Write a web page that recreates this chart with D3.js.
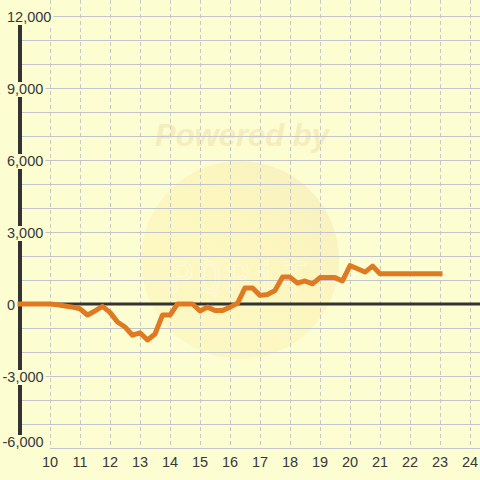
<!DOCTYPE html>
<html><head><meta charset="utf-8">
<script src="https://cdn.jsdelivr.net/npm/d3@7"></script>
<style>html,body{margin:0;padding:0;background:#fdfdd2;}svg{display:block;}</style>
</head><body><div id="chart"></div>
<script>
const hours = [9,9.25,9.5,9.75,10,10.25,10.5,10.75,11,11.25,11.5,11.75,12,12.25,12.5,12.75,13,13.25,13.5,13.75,14,14.25,14.5,14.75,15,15.25,15.5,15.75,16,16.25,16.5,16.75,17,17.25,17.5,17.75,18,18.25,18.5,18.75,19,19.25,19.5,19.75,20,20.25,20.5,20.75,21,21.25,21.5,21.75,22,22.25,22.5,22.75,23];
const values = [0,0,0,0,0,-30,-80,-130,-200,-460,-290,-100,-350,-750,-960,-1300,-1200,-1500,-1250,-460,-460,0,0,0,-290,-130,-270,-270,-130,30,670,670,360,400,560,1120,1120,870,960,840,1100,1100,1100,960,1600,1470,1330,1580,1260,1260,1260,1260,1260,1260,1260,1260,1260];
const xTicks = [10,11,12,13,14,15,16,17,18,19,20,21,22,23,24];
const yGrid = [-6000,-5000,-4000,-3000,-2000,-1000,0,1000,2000,3000,4000,5000,6000,7000,8000,9000,10000,11000,12000];
const yLabels = [12000,9000,6000,3000,0,-3000,-6000];

const W = 480, H = 480, BG = "#fdfdd2";
const x = d3.scaleLinear().domain([10,24]).range([50,470]);
const y = d3.scaleLinear().domain([-6000,12000]).range([448,16]);
const fmt = v => d3.format(",")(v).replace("\u2212","-");

const svg = d3.select("#chart").append("svg").attr("width",W).attr("height",H);
svg.append("rect").attr("width",W).attr("height",H).attr("fill",BG);

// watermark
const defs = svg.append("defs");
const grad = defs.append("linearGradient").attr("id","wm").attr("x1","0").attr("y1","1").attr("x2","1").attr("y2","0");
grad.append("stop").attr("offset","0").attr("stop-color","#fdf8c0");
grad.append("stop").attr("offset","0.6").attr("stop-color","#fcf3b8");
grad.append("stop").attr("offset","1").attr("stop-color","#f3ecbc");
svg.append("circle").attr("cx",240).attr("cy",260).attr("r",99).attr("fill","url(#wm)").attr("opacity",0.75);
svg.append("text").attr("x",242).attr("y",146).attr("text-anchor","middle")
  .attr("font-family","Liberation Sans, Arial, sans-serif").attr("font-size",31).attr("font-weight","bold").attr("font-style","italic")
  .attr("fill","#f5edbc").text("Powered by");
svg.append("text").attr("x",240).attr("y",292).attr("text-anchor","middle")
  .attr("font-family","DejaVu Sans Mono, monospace").attr("font-size",40)
  .attr("fill","none").attr("stroke","#fffbe0").attr("stroke-width",1.2).attr("letter-spacing",4).attr("opacity",0.8).text("PQPiT");

// vertical dashed grid
svg.append("g").selectAll("line").data(xTicks).join("line")
  .attr("x1",d=>x(d)+0.5).attr("x2",d=>x(d)+0.5).attr("y1",0).attr("y2",y(-6000))
  .attr("stroke","#c8c8c8").attr("stroke-width",1).attr("stroke-dasharray","4,3");

// horizontal grid
svg.append("g").selectAll("line").data(yGrid).join("line")
  .attr("x1",d=>d===-6000?x(10):20).attr("x2",W).attr("y1",d=>y(d)+0.5).attr("y2",d=>y(d)+0.5)
  .attr("stroke","#c4c4cc").attr("stroke-width",1.2);

// y axis line
svg.append("line").attr("x1",20).attr("x2",20).attr("y1",y(12000)).attr("y2",y(-6000))
  .attr("stroke","#333").attr("stroke-width",4);

// zero line
svg.append("line").attr("x1",20).attr("x2",W).attr("y1",y(0)).attr("y2",y(0))
  .attr("stroke","#333").attr("stroke-width",3);

// y labels with background
const yl = svg.append("g");
yLabels.forEach(v=>{
  const cy = v===-6000 ? y(v)-6 : y(v)+1;
  const t = yl.append("text").attr("y",cy+5).attr("x",v<0?2.5:7)
    .attr("font-family","Liberation Sans, Arial, sans-serif").attr("font-size",14.5)
    .attr("fill","#383838").text(fmt(v));
  const bb = t.node().getBBox();
  yl.insert("rect","text").attr("x",bb.x-2).attr("y",bb.y+1).attr("width",bb.width+4).attr("height",bb.height-1).attr("fill",BG);
});
yl.raise();

// x labels
svg.append("g").selectAll("text").data(xTicks).join("text")
  .attr("x",d=>x(d)).attr("y",467).attr("text-anchor","middle")
  .attr("font-family","Liberation Sans, Arial, sans-serif").attr("font-size",14.5)
  .attr("fill","#383838").text(d=>d);

// data line
const pts = hours.map((h,i)=>[h,values[i]]);
svg.append("path").datum(pts)
  .attr("d",d3.line().x(d=>x(d[0])).y(d=>y(d[1])))
  .attr("fill","none").attr("stroke","#e07a22").attr("stroke-width",5)
  .attr("stroke-linejoin","round").attr("stroke-linecap","square");
</script></body></html>
